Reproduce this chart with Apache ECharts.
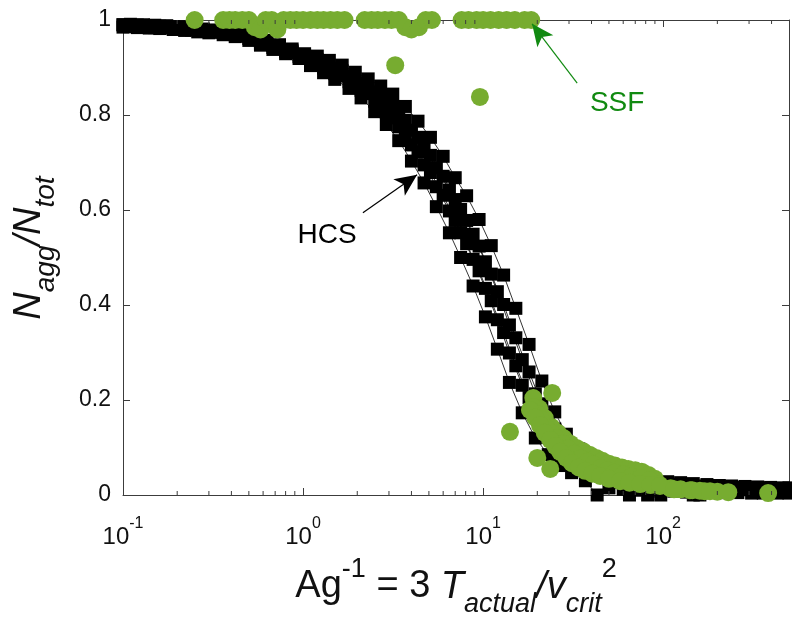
<!DOCTYPE html>
<html>
<head>
<meta charset="utf-8">
<script src="https://cdn.jsdelivr.net/npm/echarts@6.0.0/dist/echarts.min.js"></script>
<style>
html,body{margin:0;padding:0;background:#ffffff;}
#chart{width:792px;height:628px;}
</style>
</head>
<body>
<div id="chart"></div>
<script>
// ---------- data ----------
// HCS runs: two interleaved sampling grids of Ag^-1
const hcsX = [0.1,0.12,0.14,0.16,0.19, 0.22,0.26,0.3,0.36,0.42, 0.5,0.58,0.68,0.8,0.95,
  1.1,1.3,1.5,1.8,2.1, 2.5,2.9,3.4,4.0,4.7, 5.5,6.5,7.5,8.8,10.3, 12,14,16.5,19.5,23,
  27,31,37,43,50, 60,70,82,97,115, 135,160,190,220,260, 310,360,430,500];
const hcsX2 = [0.11,0.13,0.15,0.175,0.205, 0.24,0.28,0.33,0.39,0.46, 0.54,0.63,0.74,0.87,1.02,
  1.2,1.4,1.65,1.95,2.3, 2.7,3.15,3.7,4.35,5.1, 6.0,7.0,8.1,9.5,11.1, 13,15.2,18,21.2,25,
  29,34,40,46.5,55, 65,76,89,106,125, 147,175,205,240,285, 335,395,465,500];

const hcsA = [0.985,0.984,0.983,0.982,0.980, 0.978,0.975,0.973,0.969,0.965, 0.957,0.947,0.938,0.929,0.919,
  0.904,0.889,0.875,0.856,0.836, 0.807,0.780,0.746,0.703,0.657, 0.607,0.552,0.500,0.440,0.375,
  0.307,0.237,0.173,0.120,0.085, 0.062,0.047,0.030,0.000,0.015, 0.012,0.010,0.000,0.008,0.008,
  0.006,0.000,0.006,0.005,0.005, 0.004,0.004,0.004,0.004];
const hcsB = [0.986,0.985,0.984,0.983,0.981, 0.979,0.976,0.974,0.970,0.966, 0.959,0.949,0.940,0.931,0.921,
  0.908,0.895,0.882,0.864,0.845, 0.819,0.794,0.762,0.722,0.679, 0.631,0.578,0.529,0.472,0.409,
  0.342,0.272,0.205,0.147,0.105, 0.077,0.058,0.045,0.038,0.032, 0.000,0.022,0.020,0.018,0.016,
  0.015,0.014,0.012,0.012,0.011, 0.010,0.010,0.009,0.009];
const hcsC = [0.990,0.989,0.988,0.986,0.984, 0.982,0.979,0.977,0.973,0.969, 0.961,0.951,0.942,0.933,0.923,
  0.912,0.899,0.887,0.870,0.852, 0.829,0.806,0.775,0.737,0.695, 0.649,0.598,0.552,0.496,0.435,
  0.369,0.299,0.231,0.168,0.121, 0.088,0.067,0.051,0.042,0.036, 0.030,0.026,0.023,0.000,0.019,
  0.017,0.016,0.015,0.014,0.013, 0.012,0.011,0.011,0.010];
const hcsD = [0.989,0.988,0.987,0.986,0.984, 0.982,0.979,0.977,0.973,0.969, 0.963,0.953,0.944,0.935,0.925,
  0.916,0.905,0.893,0.876,0.860, 0.839,0.818,0.789,0.753,0.715, 0.671,0.622,0.578,0.524,0.465,
  0.401,0.331,0.259,0.192,0.139, 0.102,0.077,0.059,0.048,0.040, 0.034,0.029,0.026,0.023,0.021,
  0.000,0.018,0.017,0.016,0.015, 0.014,0.013,0.013,0.012];
const hcsE = [0.990,0.989,0.988,0.987,0.985, 0.983,0.980,0.978,0.974,0.970, 0.965,0.955,0.946,0.937,0.927,
  0.920,0.909,0.898,0.882,0.867, 0.849,0.830,0.802,0.768,0.731, 0.689,0.642,0.601,0.549,0.491,
  0.428,0.358,0.285,0.213,0.155, 0.113,0.086,0.065,0.052,0.044, 0.036,0.031,0.028,0.025,0.022,
  0.020,0.019,0.018,0.017,0.016, 0.015,0.014,0.014,0.013];
const hcsF = [0.991,0.990,0.989,0.988,0.986, 0.984,0.981,0.979,0.975,0.971, 0.967,0.957,0.948,0.939,0.929,
  0.924,0.915,0.905,0.890,0.876, 0.861,0.844,0.818,0.787,0.753, 0.713,0.668,0.630,0.580,0.525,
  0.463,0.393,0.317,0.240,0.175, 0.128,0.097,0.073,0.058,0.048, 0.038,0.034,0.031,0.028,0.026,
  0.024,0.022,0.020,0.019,0.018, 0.017,0.016,0.015,0.015];

// SSF points
const ssfTopX = [0.25,0.36,0.39,0.42,0.46, 0.50,0.54,0.58,0.62,0.67, 0.72,0.78,0.85,0.92,1.0,
  1.1,1.2,1.3,1.42,1.55, 1.7,2.2,2.4,2.6,2.85, 3.1,3.4,3.7,4.0,4.4, 4.8,5.2,7.6,8.3,9.2,
  10,11,12.2,13.5,15, 17,18.5];
const ssfTopY = [1,1,1,1,1, 1,0.985,0.98,1,1, 0.98,1,1,1,1,
  1,1,1,1,1, 1,1,1,1,1, 1,1,0.985,0.98,0.985, 1,1,1,1,1,
  1,1,1,1,1, 1,1];
const ssfOutX = [3.25,9.6,14.1,24.2,20,23.6,383];
const ssfOutY = [0.905,0.838,0.133,0.215,0.078,0.055,0.004];
const ssfUpX = [19,20.5,22,24,26, 28,30.5,33,36,39, 42.5,46,50,54,59, 64,70,76,83,90];
const ssfUpY = [0.204,0.182,0.162,0.143,0.131, 0.120,0.108,0.099,0.092,0.085, 0.078,0.072,0.066,0.062,0.058,
  0.055,0.052,0.049,0.042,0.034];
const ssfMidX = [19,20,21,22.5,24, 25.5,27.5,29.5,32,35, 38,41,45,49,54, 60,67,75,84,95,
  110,125,145,170,200, 230];
const ssfMidY = [0.185,0.170,0.159,0.141,0.130, 0.120,0.108,0.098,0.087,0.077, 0.070,0.064,0.057,0.052,0.047,
  0.043,0.039,0.036,0.031,0.022, 0.014,0.012,0.010,0.008,0.007, 0.006];
const ssfLowX = [18.2,19.5,20.7,22,23.6, 25.2,26.8,29,31.2,34, 36.9,40.5,44.7,50,57.7,
  65,74.5,85,96,115, 141,160,182];
const ssfLowY = [0.179,0.163,0.147,0.131,0.116, 0.103,0.091,0.078,0.067,0.058, 0.051,0.045,0.040,0.034,0.029,
  0.026,0.023,0.021,0.019,0.012, 0.010,0.009,0.008];

const xMinorTicks = [0.2,0.3,0.4,0.5,0.6,0.7,0.8,0.9, 2,3,4,5,6,7,8,9, 20,30,40,50,60,70,80,90, 200,300,400];

// annotation anchors (data coordinates)
const hcsTextAt = [1.36, 0.547];
const hcsArrowFrom = [2.15, 0.594];
const hcsArrowTo = [4.3, 0.674];
const ssfTextAt = [55.5, 0.825];
const ssfArrowFrom = [33.3, 0.867];
const ssfArrowTo = [18.7, 0.992];

// ---------- chart ----------
const FONT = '"Liberation Sans", Arial, Helvetica, sans-serif';
const AX = '#3c3c3c';
const TXT = '#111111';
const GREEN = '#77AC30';
const DKGREEN = '#118a11';

function pairs(xs, ys) { return xs.map((x, i) => [x, ys[i]]); }
function powLabel(v) {
  const l = Math.log10(v);
  const e = Math.round(l);
  if (Math.abs(l - e) > 1e-6) return '';
  return '{b|10}{s|' + e + '}';
}

const chart = echarts.init(document.getElementById('chart'), null, {renderer: 'canvas'});

const hcsRuns = [[hcsX, hcsA], [hcsX2, hcsB], [hcsX, hcsC], [hcsX2, hcsD], [hcsX, hcsE], [hcsX2, hcsF]];
const series = hcsRuns.map(r => ({
  type: 'line',
  data: pairs(r[0], r[1]),
  symbol: 'rect',
  symbolSize: 13,
  showAllSymbol: true,
  lineStyle: {color: '#000', width: 0.8},
  itemStyle: {color: '#000'},
  z: 2,
  silent: true,
  animation: false
}));

const ssfRuns = [[ssfTopX, ssfTopY], [ssfOutX, ssfOutY], [ssfUpX, ssfUpY], [ssfMidX, ssfMidY], [ssfLowX, ssfLowY]];
ssfRuns.forEach(r => series.push({
  type: 'scatter',
  data: pairs(r[0], r[1]),
  symbol: 'circle',
  symbolSize: 18,
  itemStyle: {color: GREEN, opacity: 1},
  z: 3,
  silent: true,
  animation: false
}));

series.push({
  type: 'custom',
  data: xMinorTicks.map(v => [v, 0]),
  encode: {x: 0, y: 1},
  silent: true,
  clip: false,
  z: 6,
  animation: false,
  renderItem: function (params, api) {
    const v = api.value(0);
    const b = api.coord([v, 0]);
    const t = api.coord([v, 1]);
    return {type: 'group', children: [
      {type: 'line', shape: {x1: b[0], y1: b[1], x2: b[0], y2: b[1] - 4}, style: {stroke: AX, lineWidth: 1}},
      {type: 'line', shape: {x1: t[0], y1: t[1], x2: t[0], y2: t[1] + 4}, style: {stroke: AX, lineWidth: 1}}
    ]};
  }
});

series.push({
  type: 'line',
  data: [],
  silent: true,
  z: 5,
  animation: false,
  markLine: {
    silent: true,
    animation: false,
    symbol: ['none', 'arrow'],
    symbolSize: [15, 22],
    label: {show: false},
    emphasis: {disabled: true},
    data: [
      [{coord: hcsArrowFrom, lineStyle: {color: '#000', width: 1.2, type: 'solid'}, itemStyle: {color: '#000'}},
       {coord: hcsArrowTo, lineStyle: {color: '#000', width: 1.2, type: 'solid'}, itemStyle: {color: '#000'}}],
      [{coord: ssfArrowFrom, lineStyle: {color: DKGREEN, width: 1.2, type: 'solid'}, itemStyle: {color: DKGREEN}},
       {coord: ssfArrowTo, lineStyle: {color: DKGREEN, width: 1.2, type: 'solid'}, itemStyle: {color: DKGREEN}}]
    ]
  }
});

const xAxisBase = {
  type: 'log',
  logBase: 10,
  min: 0.1,
  max: 500,
  splitLine: {show: false},
  axisLine: {show: true, onZero: false, lineStyle: {color: AX, width: 1}},
  axisTick: {show: true, inside: true, length: 7, lineStyle: {color: AX, width: 1}},
  minorTick: {show: false}
};
const yAxisBase = {
  type: 'value',
  min: 0,
  max: 1,
  interval: 0.2,
  splitLine: {show: false},
  axisLine: {show: true, onZero: false, lineStyle: {color: AX, width: 1}},
  axisTick: {show: true, inside: true, length: 7, lineStyle: {color: AX, width: 1}}
};

chart.setOption({
  animation: false,
  backgroundColor: '#ffffff',
  textStyle: {fontFamily: FONT},
  grid: {left: 123, right: 3, top: 20, bottom: 133, containLabel: false, outerBoundsMode: 'none'},
  xAxis: [
    Object.assign({}, xAxisBase, {
      position: 'bottom',
      axisLabel: {
        show: true,
        margin: 21,
        formatter: powLabel,
        showMaxLabel: false,
        rich: {
          b: {fontSize: 24, fontFamily: FONT, color: TXT, lineHeight: 33, verticalAlign: 'bottom'},
          s: {fontSize: 16, fontFamily: FONT, color: TXT, lineHeight: 33, verticalAlign: 'top'}
        }
      }
    }),
    Object.assign({}, xAxisBase, {position: 'top', axisLabel: {show: false}})
  ],
  yAxis: [
    Object.assign({}, yAxisBase, {
      position: 'left',
      axisLabel: {show: true, margin: 12, fontSize: 23, fontFamily: FONT, color: TXT}
    }),
    Object.assign({}, yAxisBase, {position: 'right', axisLabel: {show: false}})
  ],
  series: series
});

const toPx = p => chart.convertToPixel({xAxisIndex: 0, yAxisIndex: 0}, p);
const hcsPx = toPx(hcsTextAt);
const ssfPx = toPx(ssfTextAt);

chart.setOption({
  graphic: [
    {
      type: 'text', x: hcsPx[0], y: hcsPx[1], silent: true, z: 10,
      style: {text: 'HCS', fill: '#000', font: '28px ' + FONT, align: 'center', verticalAlign: 'middle'}
    },
    {
      type: 'text', x: ssfPx[0], y: ssfPx[1], silent: true, z: 10,
      style: {text: 'SSF', fill: DKGREEN, font: '28px ' + FONT, align: 'center', verticalAlign: 'middle'}
    },
    {
      type: 'text', x: 456, y: 587, silent: true, z: 10,
      style: {
        text: '{n|Ag}{sup|-1}{n| = 3 }{it|T}{sub|actual}{it|/v}{sub|crit}{sup|2}',
        align: 'center', verticalAlign: 'middle',
        rich: {
          n: {fontSize: 38, fontFamily: FONT, fill: TXT, lineHeight: 62, verticalAlign: 'middle'},
          it: {fontSize: 38, fontFamily: FONT, fontStyle: 'italic', fill: TXT, lineHeight: 62, verticalAlign: 'middle'},
          sup: {fontSize: 27, fontFamily: FONT, fill: TXT, lineHeight: 62, verticalAlign: 'top'},
          sub: {fontSize: 27, fontFamily: FONT, fontStyle: 'italic', fill: TXT, lineHeight: 62, verticalAlign: 'bottom'}
        }
      }
    },
    {
      type: 'text', x: 29, y: 248, rotation: Math.PI / 2, silent: true, z: 10,
      style: {
        text: '{n|N}{sub|agg}{n|/N}{sub|tot}',
        align: 'center', verticalAlign: 'middle',
        rich: {
          n: {fontSize: 38, fontFamily: FONT, fontStyle: 'italic', fill: TXT, lineHeight: 62, verticalAlign: 'middle'},
          sub: {fontSize: 28, fontFamily: FONT, fontStyle: 'italic', fill: TXT, lineHeight: 62, verticalAlign: 'bottom'}
        }
      }
    }
  ]
});
</script>
</body>
</html>
